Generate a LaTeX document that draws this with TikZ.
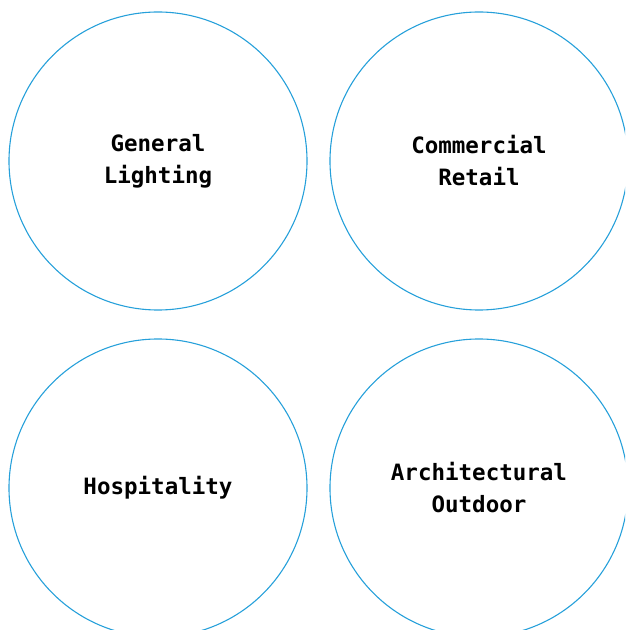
\documentclass[tikz,border=0pt]{standalone}
\usepackage{fontspec}
\setmonofont{DejaVu Sans Mono}
\usepackage{tikz}
\usetikzlibrary{positioning}
\definecolor{ringblue}{RGB}{38,160,218}
\tikzset{
  areacircle/.style={circle, draw=ringblue, line width=1.1pt, minimum size=298pt,
    inner sep=0pt, align=center, font=\ttfamily\bfseries\fontsize{22.5}{32}\selectfont}
}

\begin{document}
\begin{tikzpicture}[x=1pt, y=1pt]
\useasboundingbox (0,0) rectangle (625,630);
\clip (0,0) rectangle (625,630);
\node[areacircle] (general) at (158,469) {General\\Lighting};
\node[areacircle] (retail) at (479,469) {Commercial\\Retail};
\node[areacircle] (hospitality) at (158,142) {Hospitality};
\node[areacircle] (outdoor) at (479,142) {Architectural\\Outdoor};
\end{tikzpicture}
\end{document}
